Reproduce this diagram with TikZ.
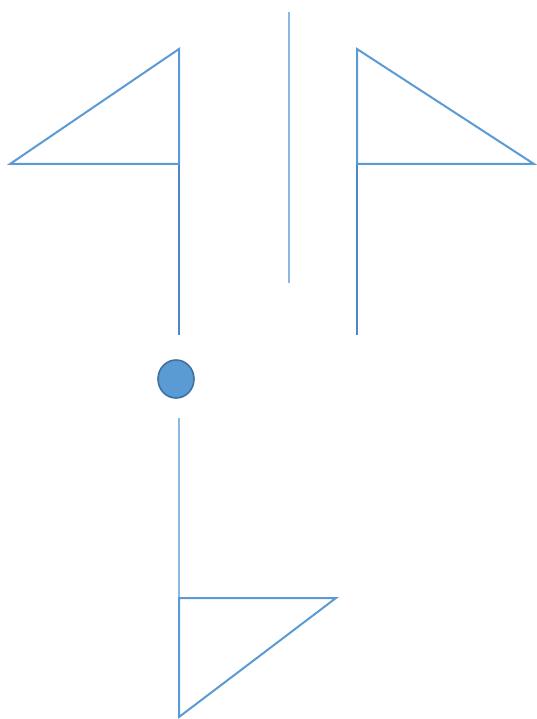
\documentclass[tikz,border=0pt]{standalone}
\usepackage{xcolor}
\usepackage{tikz}
\usetikzlibrary{shapes.geometric}
\definecolor{flagblue}{HTML}{5B9BD5}
\definecolor{ringblue}{HTML}{41719C}
\definecolor{polegray}{HTML}{4F86C6}
\definecolor{polelight}{HTML}{8DB8E3}
\tikzset{
  flag/.style={draw=flagblue, line width=2pt, line join=miter},
  pole/.style={draw=polegray, line width=1.3pt},
  polelite/.style={draw=polelight, line width=1.3pt},
  knob/.style={ellipse, draw=ringblue, fill=flagblue, line width=1.6pt, minimum width=36pt, minimum height=38pt, inner sep=0pt}
}

\begin{document}
\begin{tikzpicture}[x=1pt,y=-1pt]
  \useasboundingbox (0,0) rectangle (536,719);
  % flags
  \draw[flag] (10,164) -- (179,49) -- (179,164) -- cycle;
  \draw[flag] (357,49) -- (534,164) -- (357,164) -- cycle;
  \draw[flag] (179,598) -- (336,598) -- (179,717) -- cycle;
  % poles
  \draw[pole] (179,165) -- (179,335);
  \draw[pole] (357,165) -- (357,335);
  \draw[polelite] (289,12) -- (289,283);
  \draw[polelite] (179,418) -- (179,597);
  % knob
  \node[knob] (ball) at (176,379) {};
\end{tikzpicture}
\end{document}
